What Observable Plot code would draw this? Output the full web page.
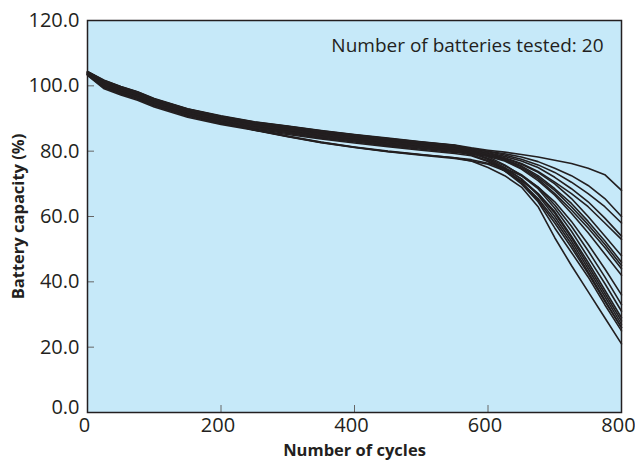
<!DOCTYPE html>
<html>
<head>
<meta charset="utf-8">
<script src="https://cdn.jsdelivr.net/npm/d3@7"></script>
<script src="https://cdn.jsdelivr.net/npm/@observablehq/plot@0.6"></script>
<style>
  html, body { margin: 0; padding: 0; background: #ffffff; }
  #chart svg { display: block; }
</style>
</head>
<body>
<div id="chart"></div>
<script>
// Cycle counts at which each battery's capacity (%) was read
const cycles = [0, 25, 50, 75, 100, 150, 200, 250, 300, 350, 400, 450, 500, 550,
                575, 600, 625, 650, 675, 700, 725, 750, 775, 800];

const b01 = [104.4, 101.7, 99.8, 98.2, 96.1, 93.0, 90.8, 89.0, 87.7, 86.3, 85.1, 84.0, 82.9, 81.9, 81.0, 80.3, 79.7, 79.0, 78.2, 77.2, 76.2, 74.8, 72.8, 68.0];
const b02 = [104.2, 101.3, 99.4, 97.8, 95.7, 92.6, 90.4, 88.6, 87.3, 85.9, 84.7, 83.6, 82.5, 81.5, 80.8, 80.0, 79.2, 78.2, 76.8, 74.8, 72.5, 69.5, 65.5, 60.0];
const b03 = [104.3, 101.6, 99.7, 98.1, 96.0, 92.9, 90.7, 88.9, 87.6, 86.2, 85.0, 83.9, 82.8, 81.8, 80.7, 79.8, 78.8, 77.5, 75.8, 73.5, 70.5, 67.0, 63.0, 58.0];
const b04 = [104.0, 100.8, 98.9, 97.3, 95.2, 92.1, 89.9, 88.1, 86.8, 85.4, 84.2, 83.1, 82.0, 81.0, 80.3, 79.5, 78.4, 77.0, 75.0, 72.0, 68.5, 64.5, 59.5, 54.0];
const b05 = [104.1, 101.1, 99.2, 97.6, 95.5, 92.4, 90.2, 88.4, 87.1, 85.7, 84.5, 83.4, 82.3, 81.3, 80.4, 79.4, 78.0, 76.2, 73.8, 70.5, 67.0, 63.0, 58.0, 53.0];
const b06 = [103.7, 100.2, 98.3, 96.7, 94.6, 91.5, 89.3, 87.5, 86.2, 84.8, 83.6, 82.5, 81.4, 80.4, 79.9, 79.0, 77.8, 76.0, 73.5, 70.0, 65.5, 60.0, 54.0, 48.0];
const b07 = [103.8, 100.5, 98.6, 97.0, 94.9, 91.8, 89.6, 87.8, 86.5, 85.1, 83.9, 82.8, 81.7, 80.7, 80.0, 79.0, 77.5, 75.5, 72.5, 68.5, 64.0, 58.5, 52.5, 46.0];
const b08 = [103.5, 99.8, 97.9, 96.3, 94.2, 91.1, 88.9, 87.1, 85.8, 84.4, 83.2, 82.1, 81.0, 80.0, 79.6, 78.7, 77.4, 75.2, 72.0, 68.0, 63.0, 57.5, 51.5, 45.0];
const b09 = [104.0, 100.9, 99.0, 97.4, 95.3, 92.2, 90.0, 88.2, 86.9, 85.5, 84.3, 83.2, 82.1, 81.1, 80.2, 79.0, 77.2, 74.8, 71.5, 67.0, 62.0, 56.5, 50.5, 44.0];
const b10 = [103.3, 99.4, 97.5, 95.9, 93.8, 90.7, 88.5, 86.7, 85.4, 84.0, 82.8, 81.7, 80.6, 79.6, 79.3, 78.4, 77.0, 74.5, 71.0, 66.5, 61.0, 55.0, 48.5, 42.0];
const b11 = [103.6, 100.0, 98.1, 96.5, 94.4, 91.3, 89.1, 86.6, 84.6, 82.8, 81.3, 80.0, 79.0, 78.0, 77.4, 76.3, 74.8, 72.5, 69.0, 64.5, 58.5, 51.5, 44.0, 36.0];
const b12 = [103.6, 100.1, 98.2, 96.6, 94.5, 91.4, 89.2, 87.4, 86.1, 84.7, 83.5, 82.4, 81.3, 80.3, 79.3, 77.8, 75.5, 72.8, 69.0, 63.5, 57.0, 49.5, 41.5, 33.0];
const b13 = [104.1, 101.2, 99.3, 97.7, 95.6, 92.5, 90.3, 88.5, 87.2, 85.8, 84.6, 83.5, 82.4, 81.4, 80.0, 78.3, 75.8, 72.5, 68.5, 62.5, 55.5, 47.5, 39.5, 31.0];
const b14 = [103.5, 99.9, 98.0, 96.4, 94.3, 91.2, 89.0, 86.4, 84.4, 82.6, 81.1, 79.8, 78.8, 77.8, 77.0, 76.0, 74.0, 71.0, 67.0, 61.5, 54.0, 46.0, 37.5, 29.0];
const b15 = [103.4, 99.7, 97.8, 96.2, 94.1, 91.0, 88.8, 87.0, 85.7, 84.3, 83.1, 82.0, 80.9, 79.9, 78.8, 77.0, 74.5, 71.5, 67.0, 61.0, 53.5, 45.0, 36.5, 28.0];
const b16 = [103.8, 100.6, 98.7, 97.1, 95.0, 91.9, 89.7, 87.9, 86.6, 85.2, 84.0, 82.9, 81.8, 80.8, 79.5, 77.5, 75.0, 71.5, 66.5, 60.0, 52.5, 44.0, 35.5, 27.0];
const b17 = [103.2, 99.1, 97.2, 95.6, 93.5, 90.4, 88.2, 86.4, 85.1, 83.7, 82.5, 81.4, 80.3, 79.3, 78.6, 76.8, 74.0, 70.5, 65.5, 59.0, 51.5, 43.0, 34.5, 26.0];
const b18 = [104.3, 101.5, 99.6, 98.0, 95.9, 92.8, 90.6, 88.8, 87.5, 86.1, 84.9, 83.8, 82.7, 81.7, 79.8, 77.5, 74.5, 70.5, 65.0, 58.0, 50.5, 42.5, 34.0, 26.0];
const b19 = [103.5, 99.9, 98.0, 96.4, 94.3, 91.2, 89.0, 87.2, 85.9, 84.5, 83.3, 82.2, 81.1, 80.1, 79.0, 77.0, 74.0, 70.0, 64.5, 56.5, 49.0, 41.5, 33.0, 25.0];
const b20 = [103.6, 100.0, 98.1, 96.5, 94.4, 91.3, 89.1, 86.5, 84.5, 82.7, 81.2, 79.9, 78.9, 78.0, 77.0, 75.0, 72.5, 69.0, 63.0, 53.5, 45.0, 37.0, 29.0, 21.0];

const batteries = [b01, b02, b03, b04, b05, b06, b07, b08, b09, b10,
                   b11, b12, b13, b14, b15, b16, b17, b18, b19, b20];

const xTicks = [0, 200, 400, 600, 800];
const yTicks = [0, 20, 40, 60, 80, 100, 120];
const xTitle = "Number of cycles";
const yTitle = "Battery capacity (%)";
const note = "Number of batteries tested: " + batteries.length;

// long-format table built from the arrays above
const rows = batteries.flatMap((vals, i) =>
  vals.map((v, j) => ({battery: i + 1, cycle: cycles[j], capacity: v})));

const W = 635, H = 463;
const mL = 87, mR = 14, mT = 20, mB = 51;
const plotW = W - mL - mR, plotH = H - mT - mB;
const ink = "#231f20";
const fmtY = d3.format(".1f");

const chart = Plot.plot({
  width: W,
  height: H,
  marginLeft: mL,
  marginRight: mR,
  marginTop: mT,
  marginBottom: mB,
  style: {fontFamily: "'Open Sans', sans-serif", fontSize: "20px", color: ink, background: "#ffffff", overflow: "visible"},
  x: {domain: [0, 800], label: null},
  y: {domain: [0, 120], label: null},
  marks: [
    Plot.frame({fill: "#c6e9f9", stroke: null}),
    Plot.line(rows, {x: "cycle", y: "capacity", z: "battery", stroke: ink, strokeWidth: 1.6, strokeLinejoin: "round"}),
    Plot.tickY(yTicks, {y: d => d, insetRight: plotW - 7, stroke: "#666", strokeWidth: 1}),
    Plot.tickX(xTicks, {x: d => d, insetTop: plotH - 7, stroke: "#666", strokeWidth: 1}),
    Plot.frame({stroke: ink, strokeWidth: 1.5}),
    Plot.axisY(yTicks.slice(1), {anchor: "left", tickSize: 0, tickPadding: 8, tickFormat: fmtY, fontSize: 20, fill: ink, label: null}),
    Plot.axisY(yTicks.slice(0, 1), {anchor: "left", tickSize: 0, tickPadding: 8, dy: -5, tickFormat: fmtY, fontSize: 20, fill: ink, label: null}),
    Plot.axisX(xTicks, {anchor: "bottom", tickSize: 0, tickPadding: 5, dx: -3, tickFormat: d => String(d), fontSize: 20, fill: ink, label: null}),
    Plot.text([xTitle], {frameAnchor: "bottom", textAnchor: "middle", lineAnchor: "middle", dy: 38, fontWeight: "bold", fontSize: 16.5, fill: ink}),
    Plot.text([yTitle], {frameAnchor: "left", textAnchor: "middle", lineAnchor: "middle", dx: -69, rotate: -90, fontWeight: "bold", fontSize: 16.5, fill: ink}),
    Plot.text([note], {frameAnchor: "top-right", textAnchor: "end", lineAnchor: "middle", dx: -18, dy: 25, fontSize: 19, fill: ink})
  ]
});

document.getElementById("chart").appendChild(chart);
</script>
</body>
</html>
